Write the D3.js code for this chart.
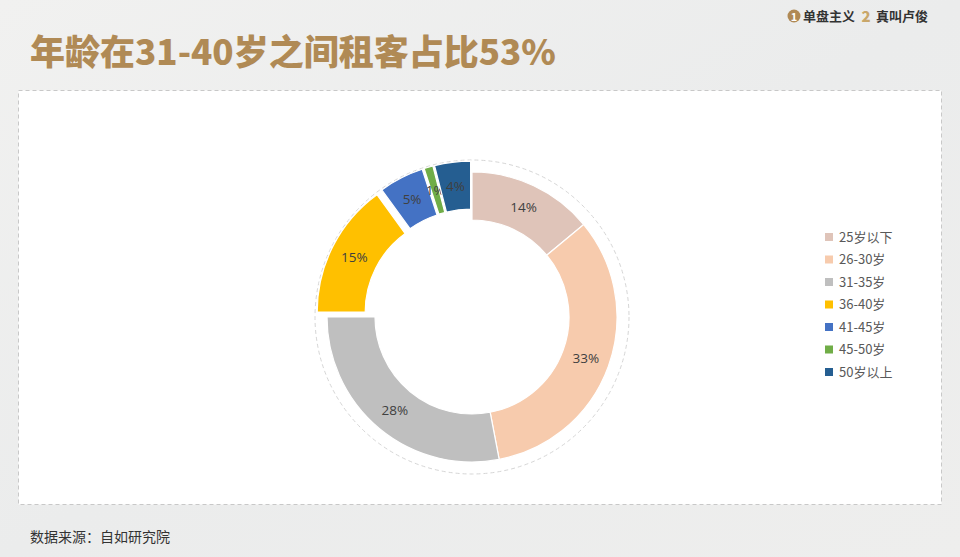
<!DOCTYPE html>
<html>
<head>
<meta charset="utf-8">
<script src="https://cdn.jsdelivr.net/npm/d3@7"></script>
<style>
  html, body { margin: 0; padding: 0; }
  body { width: 960px; height: 557px; overflow: hidden; font-family: "Noto Sans CJK SC", "Noto Sans", sans-serif; }
</style>
</head>
<body>
<div id="chart"></div>
<script>
// chart data
const categories = ["25岁以下", "26-30岁", "31-35岁", "36-40岁", "41-45岁", "45-50岁", "50岁以上"];
const shares = [14, 33, 28, 15, 5, 1, 4];
const colors = ["#dfc4b9", "#f7cbad", "#bfbfbf", "#ffc000", "#4472c4", "#70ad47", "#255e91"];
const exploded = [false, false, false, true, true, true, true];
const titleText = "年龄在31-40岁之间租客占比53%";
const sourceText = "数据来源：自如研究院";

const width = 960, height = 557;
const cx = 472, cy = 317;
const outerR = 145, innerR = 97, explode = 11;

const svg = d3.select('#chart').append('svg')
    .attr('width', width)
    .attr('height', height);

// marble-ish background
const defs = svg.append('defs');
const bg = defs.append('linearGradient')
    .attr('id', 'bg')
    .attr('x1', 0).attr('y1', 0).attr('x2', 1).attr('y2', 1);
bg.append('stop').attr('offset', '0%').attr('stop-color', '#f1f1f0');
bg.append('stop').attr('offset', '50%').attr('stop-color', '#ebecec');
bg.append('stop').attr('offset', '100%').attr('stop-color', '#eeeeed');

svg.append('rect')
    .attr('width', width)
    .attr('height', height)
    .attr('fill', 'url(#bg)');

// title
svg.append('text')
    .attr('x', 30)
    .attr('y', 65)
    .attr('fill', '#b08a55')
    .attr('font-size', 35)
    .attr('font-weight', 900)
    .attr('font-family', '"Noto Sans CJK SC", sans-serif')
    .text(titleText);

// brand marks at top right
const brand = svg.append('g').attr('font-family', '"Noto Sans CJK SC", sans-serif');
brand.append('circle').attr('cx', 794).attr('cy', 16).attr('r', 6.5).attr('fill', '#b08a55');
brand.append('text').attr('x', 794).attr('y', 20.5).attr('text-anchor', 'middle')
    .attr('font-size', 11).attr('font-weight', 700).attr('fill', '#fff').text('1');
brand.append('text').attr('x', 803).attr('y', 21).attr('font-size', 13).attr('font-weight', 700)
    .attr('fill', '#333').text('单盘主义');
brand.append('text').attr('x', 866).attr('y', 22).attr('text-anchor', 'middle')
    .attr('font-size', 15).attr('font-weight', 900).attr('fill', '#c9a76a').text('2');
brand.append('text').attr('x', 876).attr('y', 21).attr('font-size', 13).attr('font-weight', 700)
    .attr('fill', '#333').text('真叫卢俊');

// white card with dashed border
svg.append('rect')
    .attr('x', 18.5)
    .attr('y', 90.5)
    .attr('width', 923)
    .attr('height', 414)
    .attr('fill', '#ffffff')
    .attr('stroke', '#c8c8c8')
    .attr('stroke-dasharray', '4,3');

// donut
const pie = d3.pie().sort(null).value(d => d);
const arcs = pie(shares);
const arc = d3.arc().innerRadius(innerR).outerRadius(outerR);
const labelArc = d3.arc().innerRadius((innerR + outerR) / 2).outerRadius((innerR + outerR) / 2);

const chart = svg.append('g').attr('transform', `translate(${cx},${cy})`);

chart.append('circle')
    .attr('r', outerR + 12)
    .attr('fill', 'none')
    .attr('stroke', '#d6d6d6')
    .attr('stroke-dasharray', '4,3');

const offset = (d, i) => {
    if (!exploded[i]) return [0, 0];
    const a = (d.startAngle + d.endAngle) / 2;
    return [Math.sin(a) * explode, -Math.cos(a) * explode];
};

const slice = chart.selectAll('.slice')
    .data(arcs)
    .join('g')
    .attr('class', 'slice')
    .attr('transform', (d, i) => `translate(${offset(d, i)})`);

slice.append('path')
    .attr('d', arc)
    .attr('fill', (d, i) => colors[i])
    .attr('stroke', '#ffffff')
    .attr('stroke-width', 1.2);

slice.append('text')
    .attr('transform', d => `translate(${labelArc.centroid(d)})`)
    .attr('text-anchor', 'middle')
    .attr('dy', '0.35em')
    .attr('font-size', 13.5)
    .attr('fill', '#404040')
    .attr('font-family', '"Open Sans", "Noto Sans", sans-serif')
    .text(d => d.data + '%');

// legend
const legend = svg.append('g').attr('transform', 'translate(825,237)');
const item = legend.selectAll('.item')
    .data(categories)
    .join('g')
    .attr('class', 'item')
    .attr('transform', (d, i) => `translate(0,${i * 22.5})`);

item.append('rect')
    .attr('x', 0)
    .attr('y', -4)
    .attr('width', 8)
    .attr('height', 8)
    .attr('fill', (d, i) => colors[i]);

item.append('text')
    .attr('x', 14)
    .attr('dy', '0.35em')
    .attr('font-size', 13)
    .attr('fill', '#595959')
    .text(d => d);

// source
svg.append('text')
    .attr('x', 30)
    .attr('y', 542)
    .attr('font-size', 14)
    .attr('fill', '#333')
    .text(sourceText);
</script>
</body>
</html>
